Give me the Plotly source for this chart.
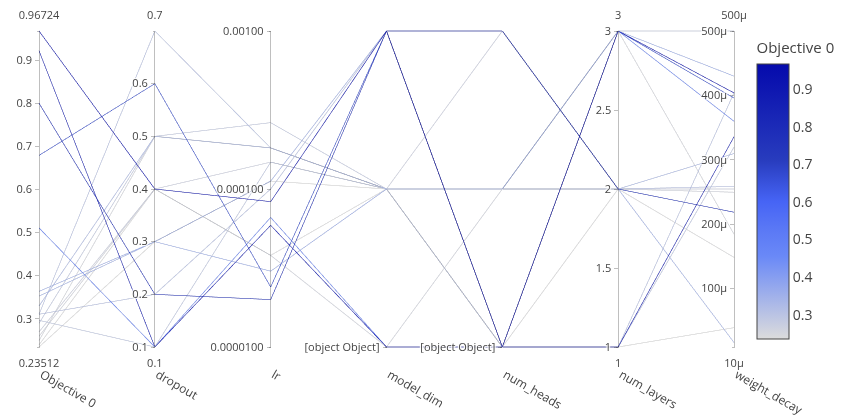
import plotly.graph_objects as go

objective = [0.96724, 0.9215, 0.800, 0.679, 0.511, 0.364, 0.353, 0.311, 0.297,
             0.33, 0.311, 0.29, 0.27, 0.26, 0.25, 0.24, 0.23512]
dropout = [0.4, 0.1, 0.2, 0.6, 0.1, 0.3, 0.3, 0.2, 0.1,
           0.5, 0.7, 0.5, 0.4, 0.4, 0.5, 0.4, 0.3]
lr_log = [-4.08, -4.23, -4.70, -4.62, -4.18, -4.52, -3.95, -4.0, -3.83,
          -3.74, -3.74, -3.58, -3.83, -4.42, -3.74, -4.42, -3.95]
model_dim = [2, 0, 2, 2, 0, 1, 2, 2, 1,
             1, 1, 1, 1, 0, 1, 1, 1]
num_heads = [0, 0, 2, 0, 0, 1, 2, 0, 0,
             1, 1, 1, 2, 1, 1, 0, 0]
num_layers = [3, 1, 2, 3, 3, 3, 2, 1, 1,
              2, 2, 3, 2, 2, 3, 2, 1]
weight_decay = [404e-6, 336e-6, 219e-6, 396e-6, 360e-6, 430e-6, 17e-6, 404e-6, 320e-6,
                310e-6, 259e-6, 500e-6, 255e-6, 250e-6, 185e-6, 149e-6, 40e-6]

lr_tickvals = [-5, -4, -3]
lr_ticktext = ["0.0000100", "0.000100", "0.00100"]
cat_tickvals = [0]
cat_ticktext = ["[object Object]"]

blues = [[0, "rgb(220,220,220)"], [0.3, "rgb(106,137,247)"], [0.4, "rgb(90,120,245)"],
         [0.5, "rgb(70,100,245)"], [0.65, "rgb(40,60,190)"], [1, "rgb(5,10,172)"]]

fig = go.Figure(go.Parcoords(
    dimensions=[
        dict(label="Objective 0", values=objective,
             range=[min(objective), max(objective)]),
        dict(label="dropout", values=dropout, range=[0.1, 0.7]),
        dict(label="lr", values=lr_log, range=[-5, -3],
             tickvals=lr_tickvals, ticktext=lr_ticktext),
        dict(label="model_dim", values=model_dim, range=[0, 2],
             tickvals=cat_tickvals, ticktext=cat_ticktext),
        dict(label="num_heads", values=num_heads, range=[0, 2],
             tickvals=cat_tickvals, ticktext=cat_ticktext),
        dict(label="num_layers", values=num_layers, range=[1, 3]),
        dict(label="weight_decay", values=weight_decay, range=[10e-6, 500e-6]),
    ],
    labelangle=30,
    labelside="bottom",
    labelfont=dict(size=12, color="#444"),
    tickfont=dict(size=11, color="#444"),
    rangefont=dict(size=11, color="#444"),
    line=dict(
        color=objective,
        colorscale=blues,
        showscale=True,
        colorbar=dict(
            title=dict(text="Objective 0", font=dict(size=15, color="#444")),
            tickfont=dict(size=14, color="#444"),
            outlinewidth=1, outlinecolor="#444",
            thickness=32,
            xref="container", x=0.8756, xanchor="left",
        ),
    ),
))

fig.update_layout(
    template="none",
    width=844, height=415,
    margin=dict(l=31, r=118, t=21, b=74),
    paper_bgcolor="white",
    plot_bgcolor="white",
    font=dict(color="#444"),
)

fig.write_html("out.html")
